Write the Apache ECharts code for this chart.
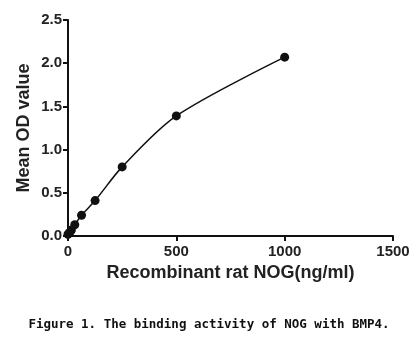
<!DOCTYPE html>
<html>
<head>
<meta charset="utf-8">
<script src="https://cdn.jsdelivr.net/npm/echarts@6/dist/echarts.min.js"></script>
<style>
html,body{margin:0;padding:0;background:#fff;}
#c{width:418px;height:338px;}
</style>
</head>
<body>
<div id="c"></div>
<script>
var concentrations = [0, 7.81, 15.63, 31.25, 62.5, 125, 250, 500, 1000];
var odValues = [0.02, 0.04, 0.07, 0.13, 0.24, 0.41, 0.80, 1.39, 2.07];
var xTicks = [0, 500, 1000, 1500];
var yTicks = [0, 0.5, 1.0, 1.5, 2.0, 2.5];
var xTitle = 'Recombinant rat NOG(ng/ml)';
var yTitle = 'Mean OD value';
var caption = 'Figure 1. The binding activity of NOG with BMP4.';

var chart = echarts.init(document.getElementById('c'), null, {renderer: 'canvas'});
var pts = concentrations.map(function (x, i) { return [x, odValues[i]]; });
var lab = {fontFamily: 'Liberation Sans, Arial, sans-serif', fontWeight: 'bold', fontSize: 15, color: '#222'};
var nameStyle = {fontFamily: 'Liberation Sans, Arial, sans-serif', fontWeight: 'bold', fontSize: 18, color: '#222'};
chart.setOption({
  animation: false,
  backgroundColor: '#fff',
  title: {
    text: caption,
    left: 'center',
    top: 313,
    textStyle: {fontFamily: 'DejaVu Sans Mono, monospace', fontWeight: 'bold', fontSize: 12.5, color: '#111'}
  },
  grid: {left: 68, right: 25, top: 20, bottom: 102},
  xAxis: {
    type: 'value', min: xTicks[0], max: xTicks[xTicks.length - 1], interval: 500,
    name: xTitle, nameLocation: 'middle', nameGap: 28,
    nameTextStyle: nameStyle,
    axisLine: {lineStyle: {color: '#111', width: 2}},
    axisTick: {show: true, length: 5, lineStyle: {color: '#111', width: 2}},
    axisLabel: Object.assign({margin: 8, formatter: function (v) { return String(v); }}, lab),
    splitLine: {show: false}
  },
  yAxis: {
    type: 'value', min: yTicks[0], max: yTicks[yTicks.length - 1], interval: 0.5,
    name: yTitle, nameLocation: 'middle', nameGap: 35, nameMoveOverlap: false,
    nameTextStyle: nameStyle,
    axisLine: {show: true, lineStyle: {color: '#111', width: 2}},
    axisTick: {show: true, length: 5, lineStyle: {color: '#111', width: 2}},
    axisLabel: Object.assign({margin: 6, formatter: function (v) { return v.toFixed(1); }}, lab),
    splitLine: {show: false}
  },
  series: [{
    type: 'line',
    data: pts,
    smooth: 0.3,
    symbol: 'circle',
    symbolSize: 9,
    lineStyle: {color: '#111', width: 1.5},
    itemStyle: {color: '#111'}
  }]
});
</script>
</body>
</html>
